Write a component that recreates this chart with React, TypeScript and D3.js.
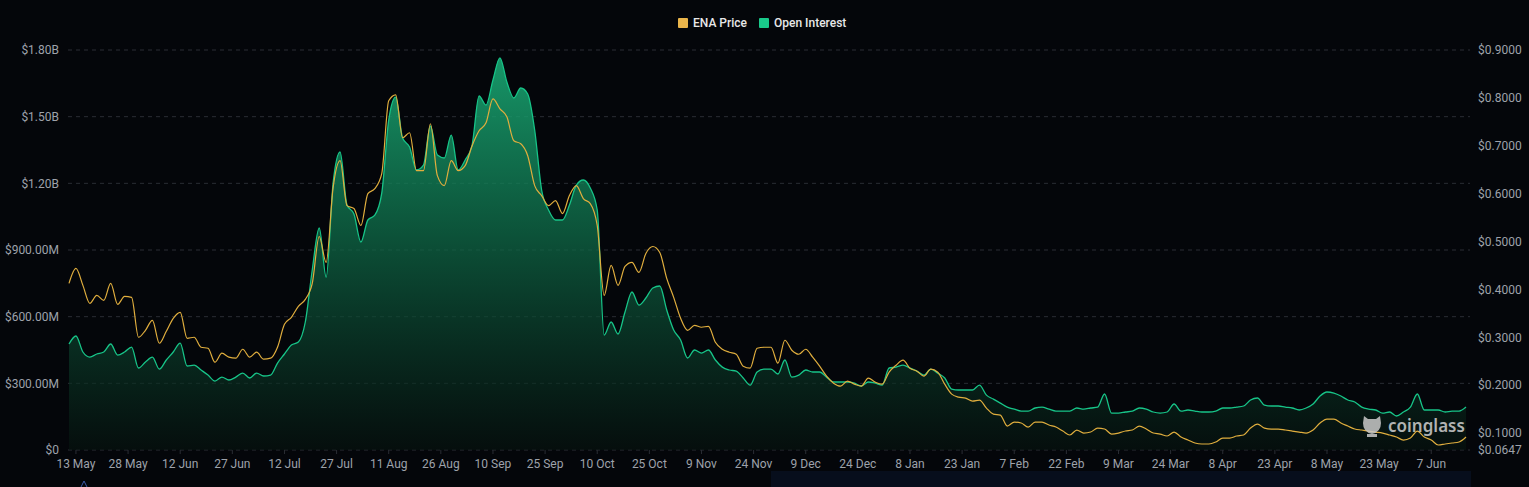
import React from "react";
import * as d3 from "d3";

// ---- DATA (2-day steps starting 11 May 2024) ----
const SERIES_START = Date.UTC(2024, 4, 11);
const STEP_DAYS = 2;

// Open Interest in millions USD
const openInterestM = [
  477, 513, 441, 418, 432, 441, 477, 427, 441, 463,
  369, 396, 418, 364, 405, 441, 481, 378, 382, 360,
  337, 310, 328, 315, 328, 346, 324, 346, 333, 337,
  391, 432, 472, 486, 576, 810, 999, 778, 1201, 1341,
  1102, 1062, 936, 1035, 1057, 1156, 1485, 1588, 1404, 1363,
  1260, 1282, 1458, 1327, 1314, 1417, 1260, 1305, 1372, 1593,
  1552, 1665, 1765, 1656, 1584, 1629, 1602, 1440, 1170, 1080,
  1035, 1035, 1102, 1192, 1215, 1179, 1080, 517, 576, 522,
  621, 711, 652, 684, 729, 738, 630, 540, 495, 414,
  450, 436, 450, 405, 373, 360, 355, 324, 292, 351,
  364, 364, 342, 405, 328, 337, 360, 351, 351, 328,
  306, 306, 306, 301, 288, 306, 301, 292, 369, 373,
  382, 369, 355, 337, 364, 346, 324, 274, 270, 270,
  270, 292, 247, 229, 211, 193, 184, 175, 175, 189,
  193, 184, 175, 175, 175, 189, 184, 189, 193, 252,
  166, 166, 171, 175, 189, 184, 171, 166, 171, 207,
  175, 180, 175, 171, 171, 175, 189, 189, 193, 198,
  225, 234, 202, 198, 198, 193, 189, 180, 189, 207,
  243, 261, 256, 243, 225, 216, 193, 184, 180, 166,
  171, 153, 171, 193, 252, 180, 180, 180, 171, 175,
  175, 193,
];

// ENA price in USD
const enaPrice = [
  0.4126, 0.4439, 0.4085, 0.3710, 0.3876, 0.3772, 0.4126, 0.3689, 0.3855, 0.3835,
  0.3001, 0.3147, 0.3355, 0.2876, 0.3126, 0.3397, 0.3522, 0.2980, 0.3001, 0.2793,
  0.2772, 0.2480, 0.2668, 0.2585, 0.2564, 0.2751, 0.2585, 0.2689, 0.2543, 0.2564,
  0.2793, 0.3272, 0.3418, 0.3647, 0.3793, 0.4126, 0.5105, 0.4564, 0.6126, 0.6689,
  0.5751, 0.5689, 0.5335, 0.6001, 0.6105, 0.6418, 0.7939, 0.8064, 0.7168, 0.7272,
  0.6480, 0.6480, 0.7460, 0.6376, 0.6168, 0.6689, 0.6480, 0.6585, 0.7001, 0.7314,
  0.7480, 0.7980, 0.7772, 0.7605, 0.7105, 0.7043, 0.6793, 0.6168, 0.5960, 0.5751,
  0.5855, 0.5585, 0.5960, 0.6168, 0.5897, 0.5793, 0.5335, 0.3876, 0.4501, 0.4085,
  0.4480, 0.4564, 0.4355, 0.4751, 0.4897, 0.4772, 0.4230, 0.3835, 0.3397, 0.3147,
  0.3251, 0.3210, 0.3230, 0.2897, 0.2751, 0.2689, 0.2647, 0.2397, 0.2355, 0.2772,
  0.2793, 0.2793, 0.2460, 0.2939, 0.2730, 0.2647, 0.2751, 0.2585, 0.2397, 0.2189,
  0.2043, 0.1980, 0.2085, 0.2022, 0.1980, 0.2147, 0.2064, 0.2022, 0.2272, 0.2418,
  0.2522, 0.2355, 0.2293, 0.2189, 0.2335, 0.2272, 0.2022, 0.1814, 0.1751, 0.1730,
  0.1668, 0.1689, 0.1522, 0.1397, 0.1376, 0.1147, 0.1230, 0.1210, 0.1126, 0.1230,
  0.1230, 0.1168, 0.1126, 0.1043, 0.0960, 0.1064, 0.1001, 0.1022, 0.1105, 0.1085,
  0.0980, 0.1001, 0.1043, 0.1064, 0.1147, 0.1085, 0.1001, 0.0980, 0.0939, 0.1022,
  0.0918, 0.0855, 0.0793, 0.0772, 0.0772, 0.0814, 0.0897, 0.0897, 0.0939, 0.0960,
  0.1105, 0.1189, 0.1105, 0.1085, 0.1085, 0.1064, 0.1043, 0.1022, 0.1001, 0.1064,
  0.1210, 0.1293, 0.1293, 0.1210, 0.1147, 0.1085, 0.1064, 0.1043, 0.1022, 0.1001,
  0.0960, 0.0918, 0.0855, 0.0897, 0.1043, 0.0918, 0.0855, 0.0751, 0.0772, 0.0793,
  0.0814, 0.0918,
];

const leftTicks = [0, 300, 600, 900, 1200, 1500, 1800];
const leftTickLabels = ["$0", "$300.00M", "$600.00M", "$900.00M", "$1.20B", "$1.50B", "$1.80B"];

const rightTicks = [0.0647, 0.1, 0.2, 0.3, 0.4, 0.5, 0.6, 0.7, 0.8, 0.9];
const rightTickLabels = ["$0.0647", "$0.1000", "$0.2000", "$0.3000", "$0.4000", "$0.5000", "$0.6000", "$0.7000", "$0.8000", "$0.9000"];

const X_TICK_START = Date.UTC(2024, 4, 13);
const X_TICK_STEP_DAYS = 15;
const xTickLabels = [
  "13 May", "28 May", "12 Jun", "27 Jun", "12 Jul", "27 Jul", "11 Aug", "26 Aug", "10 Sep",
  "25 Sep", "10 Oct", "25 Oct", "9 Nov", "24 Nov", "9 Dec", "24 Dec", "8 Jan", "23 Jan",
  "7 Feb", "22 Feb", "9 Mar", "24 Mar", "8 Apr", "23 Apr", "8 May", "23 May", "7 Jun",
];

const legendItems = [
  { label: "ENA Price", color: "#eab54b" },
  { label: "Open Interest", color: "#19c98a" },
];

const W = 1529;
const H = 487;
const FONT = "Roboto, 'Noto Sans', sans-serif";
const AXIS_COLOR = "#9ea2aa";
const PRICE_COLOR = "#e0ae3e";
const OI_COLOR = "#17c488";

export default function App() {
  const dates = openInterestM.map((_, i) => new Date(SERIES_START + i * STEP_DAYS * 86400000));
  const x = d3.scaleUtc().domain([dates[0], dates[dates.length - 1]]).range([69, 1466]);
  const yL = d3.scaleLinear().domain([0, 1800]).range([450, 50]);
  const yR = d3.scaleLinear().domain([0.0647, 0.9]).range([450, 50]);

  const oiData = openInterestM.map((v, i) => ({ d: dates[i], v }));
  const priceData = enaPrice.map((v, i) => ({ d: dates[i], v }));

  const area = d3.area<{ d: Date; v: number }>()
    .x((p) => x(p.d))
    .y0(yL(0))
    .y1((p) => yL(p.v))
    .curve(d3.curveMonotoneX);
  const oiLine = d3.line<{ d: Date; v: number }>()
    .x((p) => x(p.d))
    .y((p) => yL(p.v))
    .curve(d3.curveMonotoneX);
  const priceLine = d3.line<{ d: Date; v: number }>()
    .x((p) => x(p.d))
    .y((p) => yR(p.v))
    .curve(d3.curveMonotoneX);

  const xTicks = xTickLabels.map((label, k) => ({
    label,
    date: d3.utcDay.offset(new Date(X_TICK_START), k * X_TICK_STEP_DAYS),
  }));

  return (
    <svg
      width={W}
      height={H}
      style={{ position: "absolute", left: 0, top: 0, display: "block", background: "#04060a" }}
      fontFamily={FONT}
    >
      <defs>
        <linearGradient id="oiFill" gradientUnits="userSpaceOnUse" x1="0" y1={yL(1800)} x2="0" y2={yL(0)}>
          <stop offset="0%" stopColor="#1bb57c" stopOpacity={0.85} />
          <stop offset="45%" stopColor="#0f6e4a" stopOpacity={0.75} />
          <stop offset="100%" stopColor="#06140f" stopOpacity={0.6} />
        </linearGradient>
      </defs>
      <rect x={0} y={0} width={W} height={H} fill="#04060a" />

      {/* grid */}
      {leftTicks.map((t) => (
        <line key={t} x1={68} x2={1470} y1={yL(t)} y2={yL(t)} stroke="#2a2d34" strokeDasharray="4 4" strokeWidth={1} />
      ))}

      {/* area + lines */}
      <path d={area(oiData) || ""} fill="url(#oiFill)" />
      <path d={oiLine(oiData) || ""} fill="none" stroke={OI_COLOR} strokeWidth={1.3} />
      <path d={priceLine(priceData) || ""} fill="none" stroke={PRICE_COLOR} strokeWidth={1.2} />

      {/* left axis */}
      {leftTicks.map((t, k) => (
        <text key={t} x={59} y={yL(t)} dy="0.35em" textAnchor="end" fontSize={12} fill={AXIS_COLOR}>
          {leftTickLabels[k]}
        </text>
      ))}

      {/* right axis */}
      {rightTicks.map((t, k) => (
        <text key={t} x={1478} y={yR(t)} dy="0.35em" textAnchor="start" fontSize={12} fill={AXIS_COLOR}>
          {rightTickLabels[k]}
        </text>
      ))}

      {/* x axis */}
      {xTicks.map((t) => (
        <g key={t.label}>
          <line x1={x(t.date)} x2={x(t.date)} y1={450} y2={454} stroke="#2a2d34" />
          <text x={x(t.date)} y={468} textAnchor="middle" fontSize={12} fill={AXIS_COLOR}>
            {t.label}
          </text>
        </g>
      ))}

      {/* legend */}
      <g>
        <rect x={678} y={18} width={10} height={10} fill={legendItems[0].color} rx={1} />
        <text x={693} y={27} fontSize={12} fontWeight={500} fill="#e8e8e8">{legendItems[0].label}</text>
        <rect x={759} y={18} width={10} height={10} fill={legendItems[1].color} rx={1} />
        <text x={774} y={27} fontSize={12} fontWeight={500} fill="#e8e8e8">{legendItems[1].label}</text>
      </g>

      {/* watermark */}
      <g opacity={0.85}>
        <path
          d="M1364,416 l4,3 h8 l4,-3 l1,7 q0,9 -9,11 q-9,-2 -9,-11 z M1367,434 h10 v3 h-10 z"
          fill="#c9c9c9"
        />
        <text x={1388} y={432} fontSize={17} fontWeight={600} fill="#cfcfcf" fontFamily="'Noto Sans', sans-serif">
          coinglass
        </text>
      </g>

      {/* bottom slider remnant */}
      <rect x={771} y={471} width={700} height={16} fill="#070e1c" />
      <path d="M81,487 L84,481 L87,487" fill="none" stroke="#3b5aa8" strokeWidth={1} />
    </svg>
  );
}
